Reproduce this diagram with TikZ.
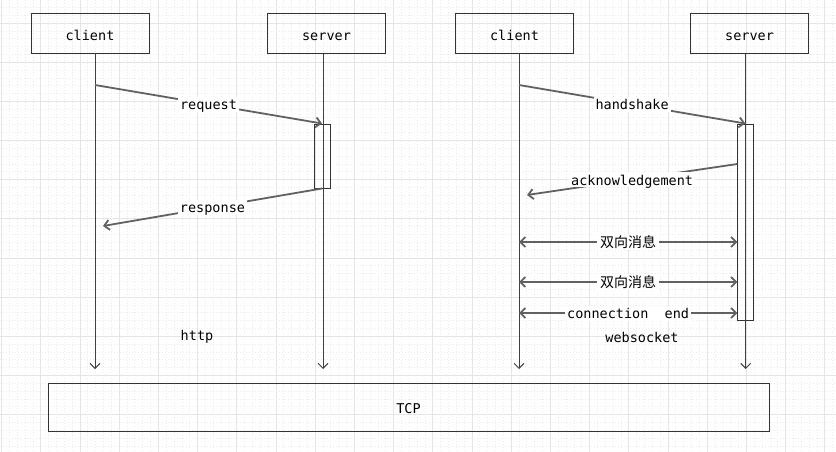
\documentclass[tikz,border=0pt]{standalone}
\usepackage{fontspec}
\newfontfamily\monofont{DejaVu Sans Mono}
\newfontfamily\cjk{Noto Sans CJK SC}
\usetikzlibrary{arrows.meta,calc}
\tikzset{>={Straight Barb[length=5pt,width=10pt]}}
\tikzset{
  gridmajor/.style={draw=black!10,line width=0.8pt},
  gridminor/.style={draw=black!8,line width=0.6pt,dash pattern=on 1pt off 2pt},
  actor/.style={draw=black!80,line width=1pt,minimum width=118pt,minimum height=40pt,
    text height=12.5pt,text depth=0pt,font=\monofont\fontsize{13.5}{16}\selectfont},
  actbar/.style={draw=black!80,line width=1pt,minimum width=16pt,inner sep=0pt},
  lifeline/.style={draw=black!75,line width=1pt,->},
  msg/.style={draw=black!62,line width=1.8pt,->},
  msgboth/.style={draw=black!62,line width=1.8pt,<->},
  lbl/.style={fill=white,inner xsep=2pt,inner ysep=1pt,text height=12pt,text depth=1pt,
    font=\monofont\fontsize{13.5}{16}\selectfont},
  cjklbl/.style={fill=white,inner xsep=3pt,inner ysep=1pt,font=\cjk\fontsize{14}{16}\selectfont},
}

\begin{document}
\begin{tikzpicture}[x=1pt,y=-1pt]
    \useasboundingbox (0,0) rectangle (836,452);
    \fill[white] (0,0) rectangle (836,452);

    % grid
    \begin{scope}
    \clip (0,0) rectangle (836,452);
    \foreach \i in {0,...,106}
        \draw[gridminor] ({1.5+7.84*\i},0) -- ++(0,452);
    \foreach \i in {0,...,60}
        \draw[gridminor] (0,{-16.15+7.83*\i}) -- ++(836,0);
    \foreach \i in {0,...,21}
        \draw[gridmajor] ({1.5+39.2*\i},0) -- ++(0,452);
    \foreach \i in {0,...,11}
        \draw[gridmajor] (0,{-16.15+39.15*\i}) -- ++(836,0);
    \end{scope}

    \node[actor] (client1) at (90,34) {client};
    \node[actor] (server1) at (326.5,34) {server};
    \node[actor] (client2) at (514.5,34) {client};
    \node[actor] (server2) at (749.5,34) {server};

    \node[actbar,minimum height=64pt] (act1) at (322,156) {};
    \node[actbar,minimum height=196pt] (act2) at (745.3,222) {};

    \coordinate (c1top) at (95,54);
    \coordinate (c1end) at (95,369);
    \coordinate (s1top) at (323,54);
    \coordinate (s1end) at (323,369);
    \coordinate (c2top) at (519,54);
    \coordinate (c2end) at (519,369);
    \coordinate (s2top) at (745.7,54);
    \coordinate (s2end) at (745.7,369);

    \draw[lifeline](c1top)--(c1end);
    \draw[lifeline](s1top)--(s1end);
    \draw[lifeline](c2top)--(c2end);
    \draw[lifeline](s2top)--(s2end);

    % http
    \coordinate (req) at (95,85);
    \coordinate (resp) at (103,226);
    \draw[msg](req)--(act1.north) node[midway,lbl]{request};
    \draw[msg](act1.south)--(resp) node[midway,lbl]{response};

    % websocket
    \coordinate (hs) at (519,85);
    \coordinate (ackA) at (737.3,164);
    \coordinate (ackB) at (527,195);
    \draw[msg](hs)--(act2.north) node[midway,lbl]{handshake};
    \draw[msg](ackA)--(ackB) node[midway,lbl]{acknowledgement};

    \coordinate (m1l) at (519,242);
    \coordinate (m1r) at (737.3,242);
    \coordinate (m2l) at (519,282);
    \coordinate (m2r) at (737.3,282);
    \coordinate (m3l) at (519,313);
    \coordinate (m3r) at (737.3,313);
    \draw[msgboth](m1l)--(m1r) node[midway,cjklbl]{双向消息};
    \draw[msgboth](m2l)--(m2r) node[midway,cjklbl]{双向消息};
    \draw[msgboth](m3l)--(m3r) node[midway,lbl]{connection\ \ end};

    \node[font=\monofont\fontsize{13.5}{16}\selectfont] (http) at (197,337) {http};
    \node[font=\monofont\fontsize{13.5}{16}\selectfont] (ws) at (642,337) {websocket};

    \node[actor,minimum width=721pt,minimum height=48pt] (tcp) at (408.5,407) {TCP};
\end{tikzpicture}
\end{document}
